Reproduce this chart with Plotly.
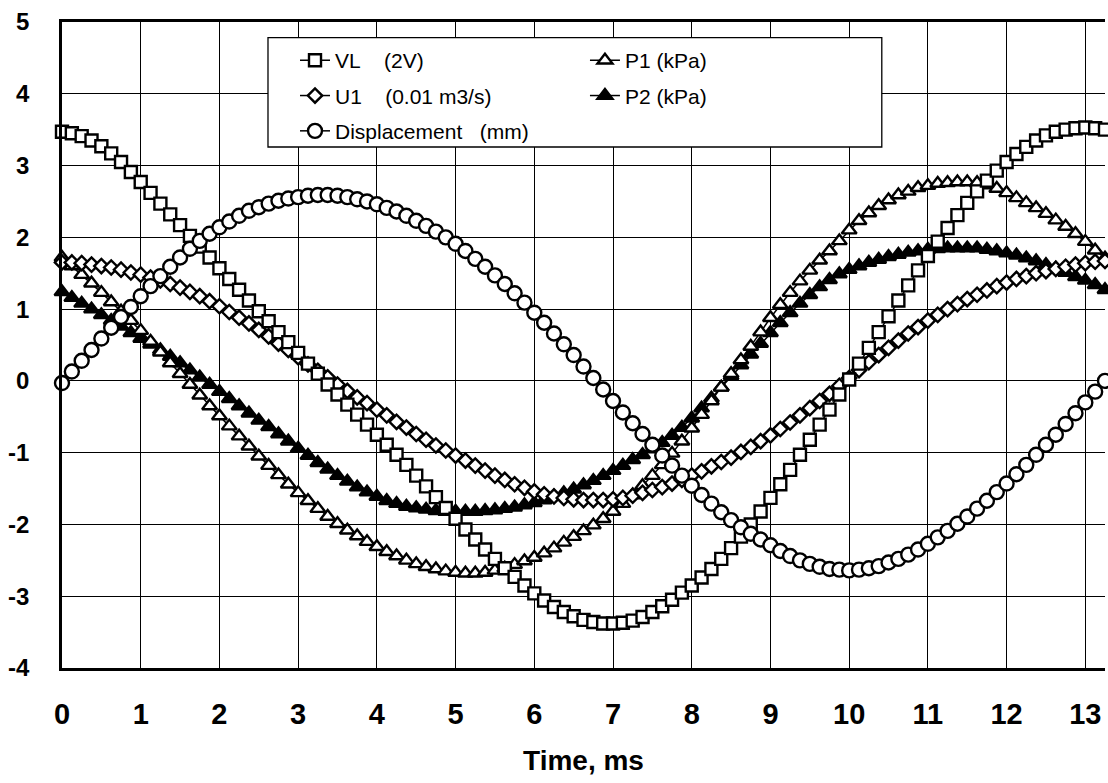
import plotly.graph_objects as go

# time axis (ms), sample step 0.125 ms
time_ms = [round(i * 0.125, 3) for i in range(107)]

vl = [3.47, 3.45, 3.41, 3.35, 3.27, 3.17, 3.05, 2.91, 2.77, 2.62,
      2.47, 2.32, 2.17, 2.02, 1.87, 1.72, 1.57, 1.42, 1.27, 1.12,
      0.97, 0.83, 0.68, 0.54, 0.39, 0.24, 0.10, -0.05, -0.19, -0.33,
      -0.47, -0.61, -0.75, -0.89, -1.03, -1.17, -1.32, -1.47, -1.62, -1.77,
      -1.92, -2.07, -2.21, -2.35, -2.48, -2.61, -2.73, -2.85, -2.96, -3.06,
      -3.15, -3.22, -3.28, -3.33, -3.36, -3.38, -3.38, -3.37, -3.34, -3.29,
      -3.22, -3.14, -3.05, -2.95, -2.85, -2.74, -2.62, -2.48, -2.33, -2.17,
      -2.00, -1.82, -1.63, -1.44, -1.24, -1.03, -0.82, -0.61, -0.40, -0.19,
      0.02, 0.24, 0.46, 0.68, 0.90, 1.12, 1.33, 1.54, 1.74, 1.94,
      2.13, 2.31, 2.48, 2.64, 2.79, 2.93, 3.05, 3.16, 3.26, 3.35,
      3.42, 3.47, 3.50, 3.52, 3.53, 3.52, 3.50]

u1 = [1.65, 1.65, 1.64, 1.62, 1.60, 1.58, 1.55, 1.51, 1.48, 1.44,
      1.40, 1.35, 1.30, 1.24, 1.18, 1.11, 1.04, 0.96, 0.88, 0.80,
      0.71, 0.62, 0.52, 0.43, 0.33, 0.23, 0.14, 0.05, -0.05, -0.14,
      -0.23, -0.31, -0.40, -0.48, -0.57, -0.65, -0.74, -0.82, -0.90, -0.97,
      -1.04, -1.11, -1.18, -1.25, -1.32, -1.38, -1.44, -1.49, -1.54, -1.58,
      -1.61, -1.63, -1.65, -1.66, -1.66, -1.66, -1.65, -1.63, -1.60, -1.56,
      -1.52, -1.48, -1.43, -1.38, -1.32, -1.26, -1.19, -1.13, -1.07, -0.99,
      -0.92, -0.84, -0.76, -0.67, -0.58, -0.48, -0.38, -0.28, -0.18, -0.07,
      0.04, 0.15, 0.26, 0.36, 0.46, 0.56, 0.66, 0.75, 0.84, 0.92,
      1.00, 1.07, 1.14, 1.20, 1.26, 1.32, 1.37, 1.42, 1.46, 1.50,
      1.53, 1.56, 1.59, 1.62, 1.64, 1.66, 1.67]

displacement = [-0.03, 0.13, 0.28, 0.43, 0.59, 0.74, 0.89, 1.03, 1.18, 1.32,
                1.46, 1.59, 1.72, 1.84, 1.95, 2.05, 2.14, 2.22, 2.30, 2.37,
                2.42, 2.47, 2.51, 2.54, 2.56, 2.58, 2.59, 2.59, 2.58, 2.56,
                2.53, 2.50, 2.46, 2.41, 2.36, 2.30, 2.23, 2.16, 2.08, 2.00,
                1.91, 1.81, 1.70, 1.59, 1.47, 1.35, 1.22, 1.09, 0.95, 0.81,
                0.66, 0.51, 0.36, 0.20, 0.04, -0.12, -0.28, -0.44, -0.59, -0.74,
                -0.89, -1.04, -1.18, -1.32, -1.46, -1.59, -1.71, -1.83, -1.94, -2.04,
                -2.13, -2.21, -2.29, -2.37, -2.44, -2.50, -2.55, -2.59, -2.62, -2.63,
                -2.64, -2.63, -2.61, -2.58, -2.53, -2.48, -2.42, -2.35, -2.27, -2.18,
                -2.09, -1.99, -1.89, -1.78, -1.67, -1.55, -1.43, -1.30, -1.17, -1.03,
                -0.89, -0.75, -0.60, -0.45, -0.30, -0.15, 0.00]

p1 = [1.72, 1.60, 1.48, 1.36, 1.23, 1.10, 0.97, 0.84, 0.70, 0.55,
      0.40, 0.25, 0.10, -0.05, -0.20, -0.35, -0.49, -0.63, -0.77, -0.91,
      -1.05, -1.18, -1.31, -1.44, -1.56, -1.67, -1.78, -1.89, -1.99, -2.08,
      -2.16, -2.24, -2.31, -2.38, -2.44, -2.50, -2.55, -2.59, -2.62, -2.65,
      -2.67, -2.68, -2.68, -2.67, -2.64, -2.61, -2.56, -2.51, -2.46, -2.40,
      -2.33, -2.25, -2.17, -2.09, -2.01, -1.92, -1.82, -1.71, -1.59, -1.46,
      -1.32, -1.17, -1.01, -0.84, -0.66, -0.47, -0.28, -0.09, 0.10, 0.29,
      0.48, 0.68, 0.88, 1.06, 1.23, 1.39, 1.54, 1.68, 1.81, 1.95,
      2.10, 2.23, 2.34, 2.44, 2.52, 2.59, 2.64, 2.69, 2.72, 2.75,
      2.76, 2.77, 2.77, 2.76, 2.73, 2.68, 2.62, 2.55, 2.48, 2.41,
      2.33, 2.24, 2.15, 2.05, 1.94, 1.82, 1.71]

p2 = [1.24, 1.16, 1.08, 1.00, 0.92, 0.84, 0.76, 0.67, 0.59, 0.51,
      0.43, 0.34, 0.25, 0.15, 0.05, -0.05, -0.15, -0.25, -0.35, -0.45,
      -0.55, -0.64, -0.74, -0.84, -0.94, -1.04, -1.14, -1.23, -1.32, -1.40,
      -1.48, -1.55, -1.61, -1.67, -1.71, -1.75, -1.77, -1.79, -1.81, -1.82,
      -1.82, -1.82, -1.82, -1.81, -1.80, -1.78, -1.76, -1.73, -1.70, -1.66,
      -1.61, -1.56, -1.51, -1.45, -1.39, -1.32, -1.25, -1.18, -1.10, -1.03,
      -0.95, -0.86, -0.76, -0.65, -0.52, -0.38, -0.24, -0.09, 0.07, 0.22,
      0.37, 0.52, 0.67, 0.81, 0.95, 1.08, 1.20, 1.31, 1.41, 1.49,
      1.55, 1.60, 1.65, 1.69, 1.73, 1.76, 1.79, 1.81, 1.83, 1.84,
      1.85, 1.85, 1.85, 1.85, 1.83, 1.81, 1.78, 1.75, 1.71, 1.67,
      1.62, 1.57, 1.51, 1.45, 1.40, 1.34, 1.27]

x_ticks = list(range(0, 14))
y_ticks = list(range(-4, 6))
y_tick_text = [str(v) for v in y_ticks]  # plain hyphen minus as in the original

NB = "\u00a0"
series = [
    # name, values, symbol, size, fill, legend, rank
    ("P2" + NB + "(kPa)", p2, "triangle-up", 13, "black", "legend2", 2),
    ("P1" + NB + "(kPa)", p1, "triangle-up", 13, "white", "legend2", 1),
    ("U1" + NB * 4 + "(0.01 m3/s)", u1, "diamond", 11, "white", "legend", 2),
    ("VL" + NB * 4 + "(2V)", vl, "square", 12, "white", "legend", 1),
    ("Displacement" + NB * 3 + "(mm)", displacement, "circle", 14, "white", "legend", 3),
]

fig = go.Figure()
for name, vals, sym, size, fill, leg, rank in series:
    fig.add_trace(go.Scatter(
        x=time_ms, y=vals, name=name, mode="lines+markers",
        line=dict(color="black", width=1.5),
        marker=dict(symbol=sym, size=size, color=fill,
                    line=dict(color="black", width=2.4)),
        cliponaxis=False, legend=leg, legendrank=rank,
        legendgroup=name,
    ))

# legend frame
fig.add_shape(type="rect", xref="paper", yref="paper",
              x0=0.1975, x1=0.786, y0=0.8065, y1=0.9757,
              fillcolor="white", line=dict(color="black", width=1.3),
              layer="above")

legend_font = dict(family="Liberation Sans", size=21, color="black")
fig.update_layout(
    width=1108, height=783,
    margin=dict(l=62, r=3, t=22, b=115),
    paper_bgcolor="white", plot_bgcolor="white",
    showlegend=True,
    legend=dict(x=0.2234, y=0.972, xanchor="left", yanchor="top",
                bgcolor="rgba(0,0,0,0)", borderwidth=0, font=legend_font,
                traceorder="grouped", tracegroupgap=5),
    legend2=dict(x=0.5014, y=0.972, xanchor="left", yanchor="top",
                 bgcolor="rgba(0,0,0,0)", borderwidth=0, font=legend_font,
                 traceorder="grouped", tracegroupgap=5),
)

fig.update_xaxes(
    range=[0, 13.25], tickvals=x_ticks, ticks="",
    showgrid=True, gridcolor="black", gridwidth=1.2,
    zeroline=False,
    showline=True, linecolor="black", linewidth=2.5, mirror=True,
    tickfont=dict(family="Liberation Sans", size=29, color="black", weight="bold"),
    ticklabelstandoff=18,
    title=dict(text="Time, ms", standoff=22,
               font=dict(family="Liberation Sans", size=28, color="black", weight="bold")),
)
fig.update_yaxes(
    range=[-4, 5], tickvals=y_ticks, ticktext=y_tick_text, ticks="",
    showgrid=True, gridcolor="black", gridwidth=1.2,
    zeroline=True, zerolinecolor="black", zerolinewidth=1.2,
    showline=True, linecolor="black", linewidth=2.5,
    tickfont=dict(family="Liberation Sans", size=24, color="black", weight="bold"),
    ticklabelstandoff=25,
)

fig.write_html("out.html")
